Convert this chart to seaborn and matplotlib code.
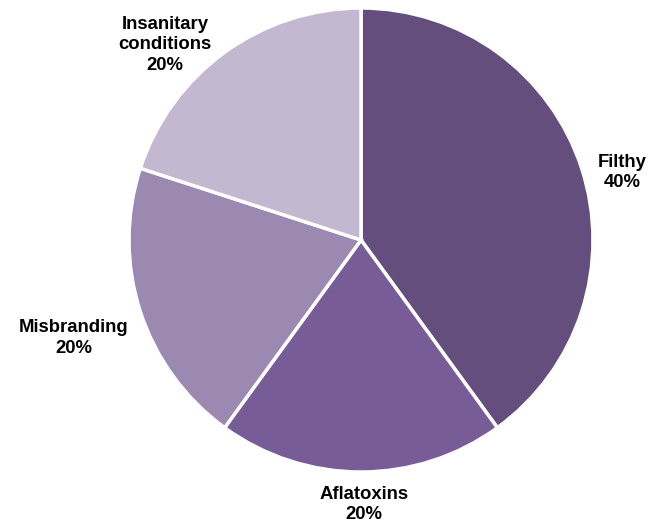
import matplotlib
matplotlib.use("Agg")
import matplotlib.pyplot as plt
import seaborn as sns
import numpy as np

categories = ["Filthy", "Aflatoxins", "Misbranding", "Insanitary\nconditions"]
shares = [40, 20, 20, 20]
colors = ["#634e7e", "#775c97", "#9c89b2", "#c3b8d0"]

sns.set_theme(style="white")
plt.rcParams['font.family'] = ['Liberation Sans', 'DejaVu Sans']

fig = plt.figure(figsize=(6.5, 5.27), dpi=100)
ax = fig.add_axes([129 / 650, 55 / 527, 464 / 650, 464 / 527])

wedges, _ = ax.pie(shares, colors=colors, startangle=90, counterclock=False,
                   radius=1.0, wedgeprops=dict(edgecolor="white", linewidth=2.5))

# label positions (data coords, radius = 1)
label_pos = [(1.125, 0.29), (0.013, -1.14), (-1.237, -0.422), (-0.845, 0.841)]
for name, val, (x, y) in zip(categories, shares, label_pos):
    ax.text(x, y, f"{name}\n{val}%", ha="center", va="center",
            fontsize=13.3, fontweight="bold", color="black", linespacing=1.25)

ax.set_xlim(-1, 1)
ax.set_ylim(-1, 1)
ax.set_aspect("equal")
ax.axis("off")

fig.savefig("out.png", dpi=100, facecolor="white")
